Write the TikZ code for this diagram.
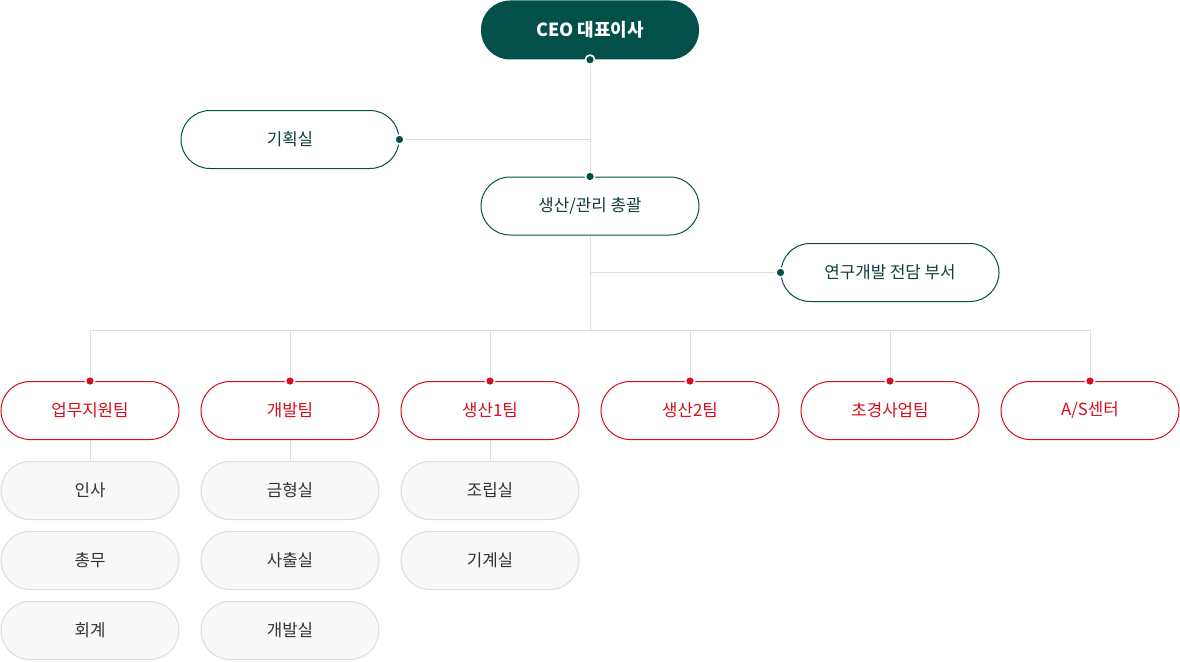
\documentclass[tikz,border=0pt]{standalone}
\usepackage{fontspec}
\setmainfont{Noto Sans CJK KR}
\usetikzlibrary{positioning, backgrounds}
\definecolor{deepteal}{HTML}{03504A}
\definecolor{tealtext}{HTML}{0E3F3A}
\definecolor{crim}{HTML}{D40F1E}
\definecolor{rule}{HTML}{DDDDDD}
\definecolor{paper}{HTML}{F8F8F8}
\definecolor{ink}{HTML}{333333}
\newcommand{\joint}[2]{\fill[white] (#1) circle (5.5pt); \fill[#2] (#1) circle (3.6pt);}

\begin{document}
\begin{tikzpicture}[x=1pt, y=-1pt,
    every node/.style={font=\fontsize{16.8}{20}\selectfont, inner sep=0pt},
    ceo/.style={rounded corners=29pt, fill=deepteal, text=white, minimum width=218pt, minimum height=59pt, font=\fontsize{18}{21}\selectfont\bfseries},
    dept/.style={rounded corners=29pt, draw=deepteal, line width=1pt, fill=white, text=tealtext, minimum width=218pt, minimum height=58pt},
    team/.style={rounded corners=29pt, draw=crim, line width=1pt, fill=white, text=crim, minimum width=178pt, minimum height=58pt},
    sub/.style={rounded corners=29pt, draw=rule, line width=1pt, fill=paper, text=ink, minimum width=178pt, minimum height=58pt},
    ln/.style={draw=rule, line width=1pt}
]
\useasboundingbox (0,0) rectangle (1180,661);
% top of the chart
\node[ceo]  (ceo)  at (590,30)    {CEO 대표이사};
\node[dept] (plan) at (290,139.5) {기획실};
\node[dept] (gen)  at (590,206)   {생산/관리 총괄};
\node[dept] (rnd)  at (890,272.5) {연구개발 전담 부서};
\coordinate (bus) at (590,330);
% teams
\node[team] (upmu)    at (90,410.5)   {업무지원팀};
\node[team] (gaebal)  at (290,410.5)  {개발팀};
\node[team] (prod1)   at (490,410.5)  {생산1팀};
\node[team] (prod2)   at (690,410.5)  {생산2팀};
\node[team] (newbiz)  at (890,410.5)  {초경사업팀};
\node[team] (service) at (1090,410.5) {A/S센터};
% sub units
\node[sub] (insa)   at (90,490.5)  {인사};
\node[sub] (chongmu) at (90,560.5) {총무};
\node[sub] (hoegye) at (90,630.5)  {회계};
\node[sub] (mold)   at (290,490.5) {금형실};
\node[sub] (inject) at (290,560.5) {사출실};
\node[sub] (devrm)  at (290,630.5) {개발실};
\node[sub] (assy)   at (490,490.5) {조립실};
\node[sub] (mach)   at (490,560.5) {기계실};
\begin{scope}[on background layer]
\draw[ln] (ceo.south) -- (bus);
\draw[ln] (plan.east) -- (plan.east -| ceo.south);
\draw[ln] (rnd.west) -- (rnd.west -| gen.south);
\draw[ln] (upmu.north) -- (upmu.north |- bus) -- (service.north |- bus) -- (service.north);
\foreach \t in {gaebal, prod1, prod2, newbiz} \draw[ln] (\t.north) -- (\t.north |- bus);
\draw[ln] (upmu.south) -- (insa.north); \draw[ln] (gaebal.south) -- (mold.north); \draw[ln] (prod1.south) -- (assy.north);
\end{scope}
\joint{ceo.south}{deepteal} \joint{plan.east}{deepteal} \joint{gen.north}{deepteal} \joint{rnd.west}{deepteal}
\foreach \t in {upmu, gaebal, prod1, prod2, newbiz, service} {\joint{\t.north}{crim}}
\end{tikzpicture}
\end{document}
